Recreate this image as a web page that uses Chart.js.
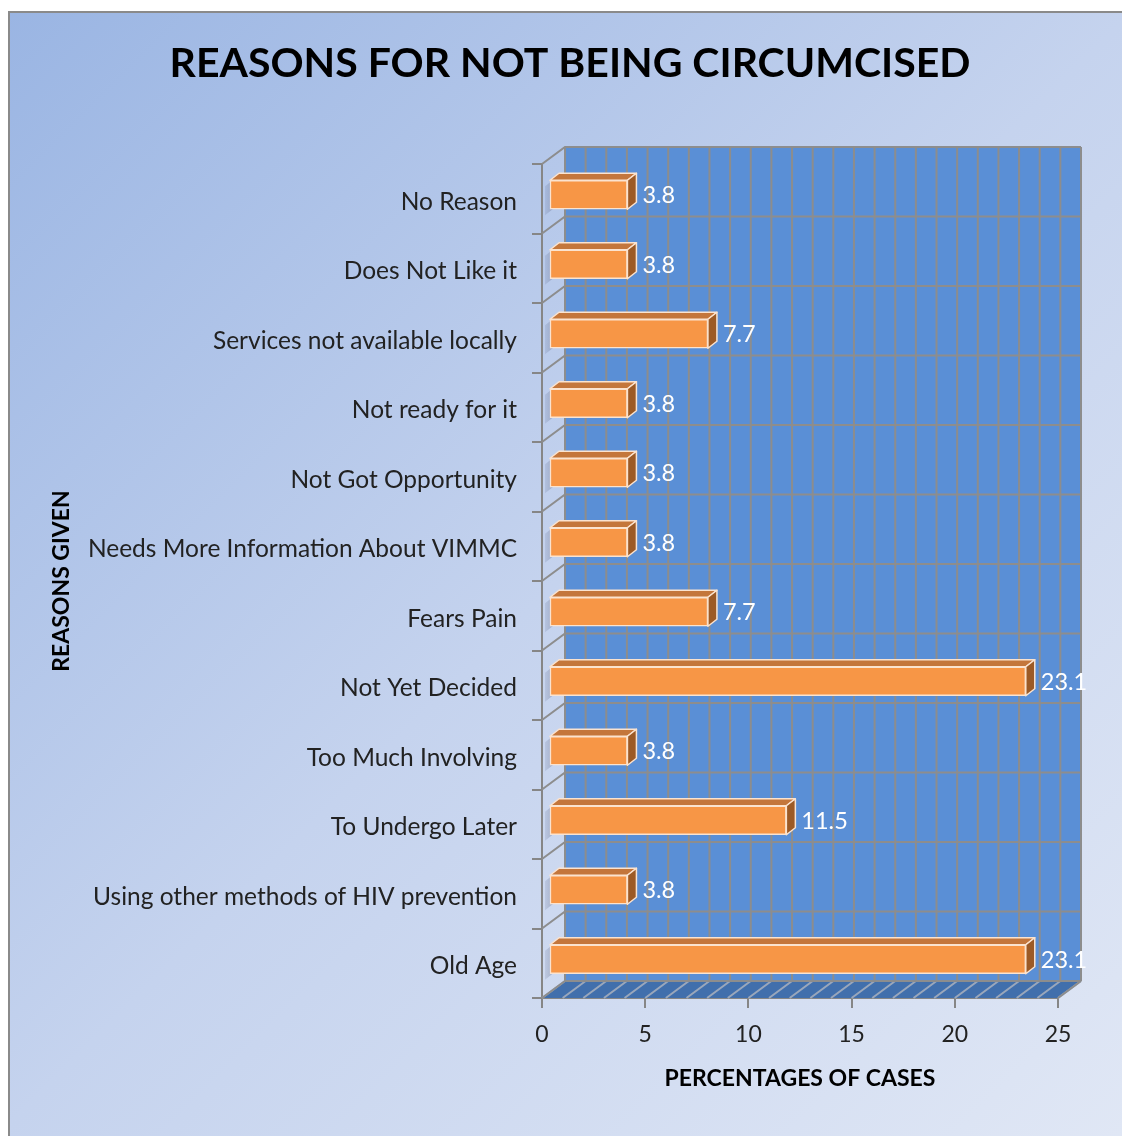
<!DOCTYPE html>
<html>
<head>
<meta charset="utf-8">
<script src="https://cdn.jsdelivr.net/npm/chart.js@4.4.1/dist/chart.umd.min.js"></script>
<style>
  html, body { margin: 0; padding: 0; background: #fff; }
  #wrap { width: 1122px; height: 1136px; }
</style>
</head>
<body>
<div id="wrap"><canvas id="barChart" width="1122" height="1136"></canvas></div>
<script>
// data
const reasons = [
    "No Reason",
    "Does Not Like it",
    "Services not available locally",
    "Not ready for it",
    "Not Got Opportunity",
    "Needs More Information About VIMMC",
    "Fears Pain",
    "Not Yet Decided",
    "Too Much Involving",
    "To Undergo Later",
    "Using other methods of HIV prevention",
    "Old Age"
];
const percentages = [3.8, 3.8, 7.7, 3.8, 3.8, 3.8, 7.7, 23.1, 3.8, 11.5, 3.8, 23.1];
const xTicks = [0, 5, 10, 15, 20, 25];

const FONT = "Lato, 'Open Sans', sans-serif";
const WALL_DX = 23, WALL_DY = -17;   // depth of the back wall
const BAR_DX = 7, BAR_DY = -4;       // bars sit a bit behind the front plane
const BOX_DX = 9, BOX_DY = -7;       // bar depth

// background, border and title
const frame = {
    id: "frame",
    beforeDraw(chart) {
        const ctx = chart.ctx;
        ctx.save();
        ctx.fillStyle = "#fff";
        ctx.fillRect(0, 0, chart.width, chart.height);
        const g = ctx.createLinearGradient(8, 12, 1122, 1136);
        g.addColorStop(0, "#9ab5e3");
        g.addColorStop(0.5, "#c5d3ee");
        g.addColorStop(1, "#e0e7f5");
        ctx.fillStyle = g;
        ctx.fillRect(9, 13, chart.width - 9, chart.height - 13);
        ctx.strokeStyle = "#8a8a8a";
        ctx.lineWidth = 2;
        ctx.beginPath();
        ctx.moveTo(9, chart.height);
        ctx.lineTo(9, 12);
        ctx.lineTo(chart.width, 12);
        ctx.stroke();
        ctx.fillStyle = "#000";
        ctx.font = "bold 41px " + FONT;
        ctx.textAlign = "center";
        ctx.textBaseline = "middle";
        ctx.fillText("REASONS FOR NOT BEING CIRCUMCISED", 570, 64);
        ctx.restore();
    }
};

// 3D walls, then bars drawn shifted, then bar sides and value labels
const walls = {
    id: "walls",
    beforeDatasetsDraw(chart) {
        const ctx = chart.ctx;
        const a = chart.chartArea;
        const xs = chart.scales.x, ys = chart.scales.y;
        ctx.save();
        // floor
        ctx.fillStyle = "#416fac";
        ctx.beginPath();
        ctx.moveTo(a.left, a.bottom);
        ctx.lineTo(a.right, a.bottom);
        ctx.lineTo(a.right + WALL_DX, a.bottom + WALL_DY);
        ctx.lineTo(a.left + WALL_DX, a.bottom + WALL_DY);
        ctx.closePath();
        ctx.fill();
        // back wall
        ctx.fillStyle = "#5a8fd6";
        ctx.fillRect(a.left + WALL_DX, a.top + WALL_DY, a.right - a.left, a.bottom - a.top);
        ctx.lineWidth = 2;
        for (let v = 0; v <= 25; v++) {
            const px = xs.getPixelForValue(v);
            ctx.strokeStyle = "#8d8d8d";
            ctx.beginPath();
            ctx.moveTo(px + WALL_DX, a.top + WALL_DY);
            ctx.lineTo(px + WALL_DX, a.bottom + WALL_DY);
            ctx.stroke();
            ctx.strokeStyle = "#9aa7bb";
            ctx.beginPath();
            ctx.moveTo(px, a.bottom);
            ctx.lineTo(px + WALL_DX, a.bottom + WALL_DY);
            ctx.stroke();
        }
        ctx.strokeStyle = "#8d8d8d";
        for (let i = 0; i <= reasons.length; i++) {
            const py = ys.getPixelForValue(i - 0.5);
            ctx.beginPath();
            ctx.moveTo(a.left, py);
            ctx.lineTo(a.left + WALL_DX, py + WALL_DY);
            ctx.lineTo(a.right + WALL_DX, py + WALL_DY);
            ctx.stroke();
        }
        ctx.beginPath();
        ctx.moveTo(a.right, a.bottom);
        ctx.lineTo(a.right + WALL_DX, a.bottom + WALL_DY);
        ctx.stroke();
        // soft shadow of each bar on the left side wall
        chart.getDatasetMeta(0).data.forEach(bar => {
            const sg = ctx.createLinearGradient(a.left, 0, a.left + 16, 0);
            sg.addColorStop(0, "rgba(90,100,130,0.08)");
            sg.addColorStop(1, "rgba(90,100,130,0.45)");
            ctx.fillStyle = sg;
            ctx.beginPath();
            ctx.moveTo(a.left + 3, bar.y - bar.height / 2 + 2);
            ctx.lineTo(a.left + 17, bar.y - bar.height / 2 - 9);
            ctx.lineTo(a.left + 17, bar.y + bar.height / 2 - 9);
            ctx.lineTo(a.left + 3, bar.y + bar.height / 2 + 2);
            ctx.closePath();
            ctx.fill();
        });
        ctx.translate(BAR_DX, BAR_DY);
    },
    afterDatasetsDraw(chart) {
        const ctx = chart.ctx;
        const meta = chart.getDatasetMeta(0);
        meta.data.forEach((bar, i) => {
            const top = bar.y - bar.height / 2, bot = bar.y + bar.height / 2;
            ctx.lineWidth = 1.5;
            ctx.strokeStyle = "#fbe3cf";
            ctx.lineJoin = "round";
            ctx.fillStyle = "#c4763b";
            ctx.beginPath();
            ctx.moveTo(bar.base, top);
            ctx.lineTo(bar.base + BOX_DX, top + BOX_DY);
            ctx.lineTo(bar.x + BOX_DX, top + BOX_DY);
            ctx.lineTo(bar.x, top);
            ctx.closePath();
            ctx.fill();
            ctx.stroke();
            ctx.fillStyle = "#9c5a26";
            ctx.beginPath();
            ctx.moveTo(bar.x, top);
            ctx.lineTo(bar.x + BOX_DX, top + BOX_DY);
            ctx.lineTo(bar.x + BOX_DX, bot + BOX_DY);
            ctx.lineTo(bar.x, bot);
            ctx.closePath();
            ctx.fill();
            ctx.stroke();
            ctx.fillStyle = "#fff";
            ctx.font = "23.5px " + FONT;
            ctx.textAlign = "left";
            ctx.textBaseline = "middle";
            ctx.fillText(String(percentages[i]), bar.x + 15, bar.y + 1);
        });
        ctx.restore();
    }
};

new Chart(document.getElementById("barChart"), {
    type: "bar",
    data: {
        labels: reasons,
        datasets: [{
            data: percentages,
            backgroundColor: "#f79646",
            borderColor: "#fbe3cf",
            borderWidth: 1.5,
            borderSkipped: false,
            barThickness: 29,
            clip: false
        }]
    },
    options: {
        indexAxis: "y",
        responsive: false,
        animation: false,
        layout: { padding: { left: 0, right: 64, top: 164, bottom: 0 } },
        plugins: {
            legend: { display: false },
            tooltip: { enabled: false },
            title: { display: false }
        },
        scales: {
            x: {
                min: 0,
                max: 25,
                afterFit: s => { s.height = 138; },
                afterBuildTicks: s => { s.ticks = xTicks.map(v => ({ value: v })); },
                grid: { drawOnChartArea: false, color: "#868686", lineWidth: 2, tickLength: 10 },
                border: { display: true, color: "#868686", width: 2 },
                ticks: { color: "#222", font: { family: FONT, size: 23 }, padding: 13 },
                title: {
                    display: true,
                    text: "PERCENTAGES OF CASES",
                    color: "#000",
                    font: { family: FONT, size: 23, weight: "bold" },
                    padding: { top: 0, bottom: 44 }
                }
            },
            y: {
                afterFit: s => { s.width = 542; },
                grid: { drawOnChartArea: false, color: "#868686", lineWidth: 2, tickLength: 10 },
                border: { display: true, color: "#868686", width: 2 },
                ticks: { color: "#222", font: { family: FONT, size: 24.5 }, padding: 15, labelOffset: 3 },
                title: {
                    display: true,
                    text: "REASONS GIVEN",
                    color: "#000",
                    font: { family: FONT, size: 23, weight: "bold" },
                    padding: { top: 48, bottom: 0 }
                }
            }
        }
    },
    plugins: [frame, walls]
});
</script>
</body>
</html>
